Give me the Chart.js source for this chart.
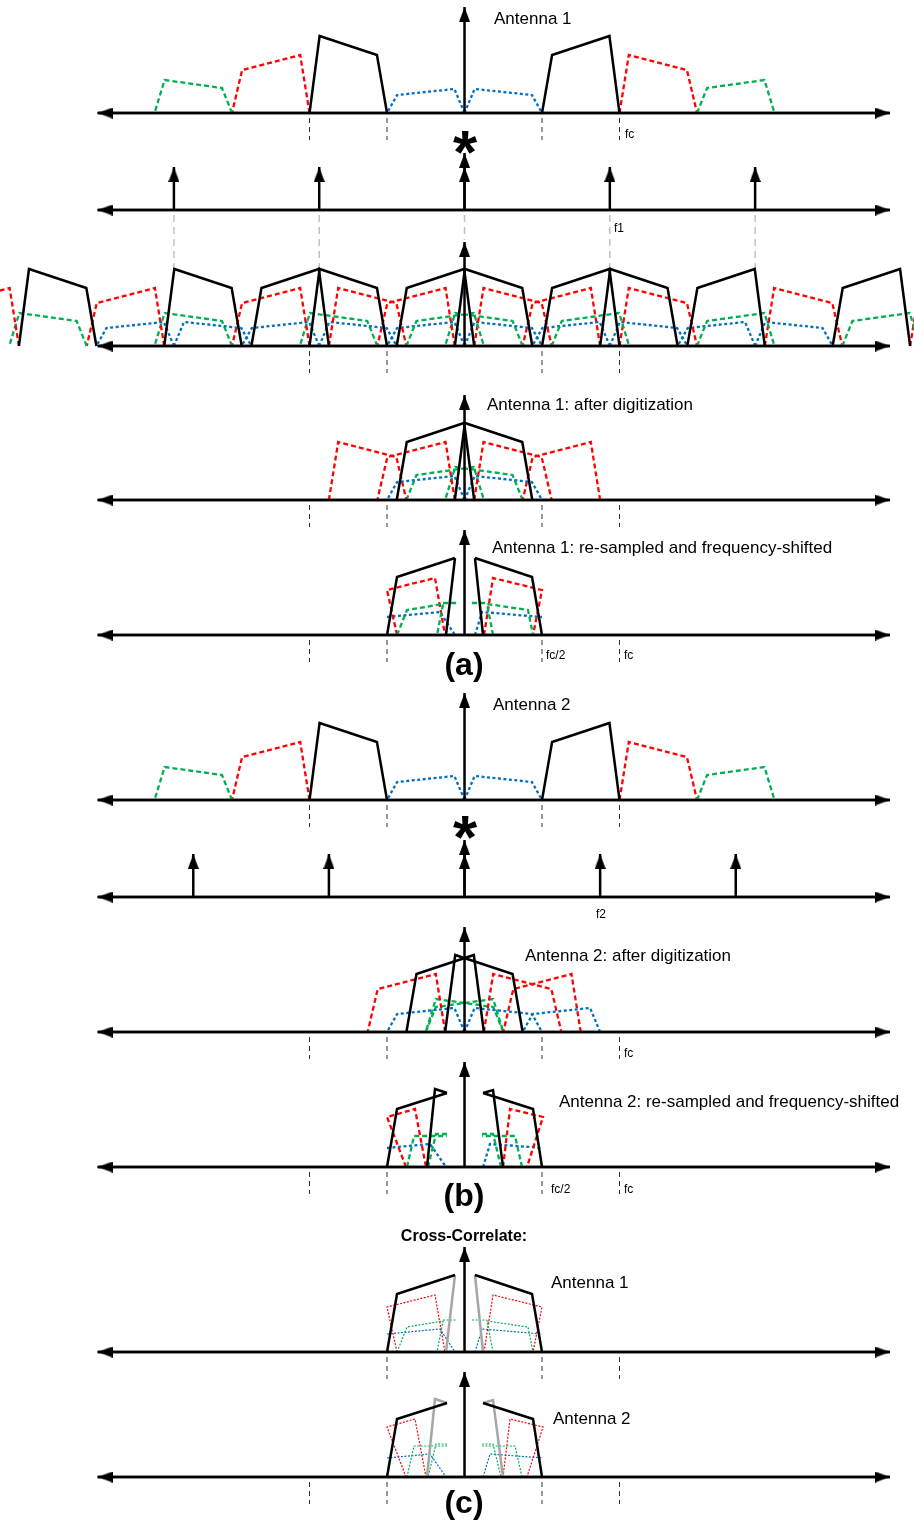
<!DOCTYPE html>
<html>
<head>
<meta charset="utf-8">
<title>Sampling and re-sampling spectra</title>
<script src="https://cdn.jsdelivr.net/npm/chart.js@4.4.1/dist/chart.umd.min.js"></script>
<style>
  body { margin: 0; background: #fff; }
  #wrap { position: relative; width: 914px; height: 1521px; font-family: "Liberation Sans", Arial, sans-serif; color: #000; }
  #chart { position: absolute; left: 0; top: 0; }
  .lbl { position: absolute; white-space: nowrap; line-height: normal; }
</style>
</head>
<body>
<div id="wrap">
  <canvas id="chart" width="914" height="1521"></canvas>
</div>
<script>
// frequency axis in units of fc/2 (0 = DC, 1 = fc/2, 2 = fc)
const F1 = 1.875; // antenna 1 sampling rate
const F2 = 1.75;  // antenna 2 sampling rate

// positive-frequency sub-bands of the received spectrum [freq, amplitude]
const blueBand = [[0, 0], [0.13, 24], [0.87, 18], [1, 0]];
const blackBand = [[1, 0], [1.13, 58], [1.87, 77], [2, 0]];
const redBand = [[2, 0], [2.12, 58], [2.87, 43], [3, 0]];
const greenBand = [[3, 0], [3.13, 25], [3.87, 33], [4, 0]];

const combOrders = [-2, -1, 0, 1, 2];
const combHeight = 43;

// images kept after digitization: [band, side, sampling order]
const digit1Images = [
  ["blue", 1, 0], ["blue", -1, 0],
  ["black", 1, -1], ["black", -1, 1],
  ["red", 1, -1], ["red", 1, -2], ["red", -1, 1], ["red", -1, 2],
  ["green", 1, -2], ["green", -1, 2],
];
const digit2Images = [
  ["blue", 1, 0], ["blue", -1, 0], ["blue", -1, 1],
  ["black", 1, -1], ["black", -1, 1],
  ["red", -1, 1], ["red", 1, -1], ["red", -1, 2],
  ["green", 1, -2], ["green", -1, 2],
];

// antenna 1 after re-sampling and frequency shift
const rs1Black = [[[-1, 0], [-0.871, 58], [-0.123, 77]], [[0.135, 77], [0.871, 58], [1, 0]]];
const rs1Edge = [[[-0.123, 77], [-0.239, 0]], [[0.135, 77], [0.239, 0]]];
const rs1Red = [[[-0.871, 0], [-1, 45], [-0.381, 57], [-0.252, 0]], [[0.252, 0], [0.368, 57], [1, 45], [0.884, 0]]];
const rs1Green = [
  [[-0.871, 0], [-0.742, 25], [-0.277, 31], [-0.355, 0]], [[-0.277, 32], [-0.097, 32]],
  [[0.368, 0], [0.29, 31], [0.819, 25], [0.884, 0]], [[0.097, 32], [0.29, 32]],
];
const rs1Blue = [[[-1, 18], [-0.316, 23], [-0.123, 0]], [[0.135, 0], [0.226, 23], [1, 18]]];

// antenna 2 after re-sampling and frequency shift
const rs2Black = [[[-1, 0], [-0.871, 58], [-0.226, 74]], [[0.239, 74], [0.884, 58], [1, 0]]];
const rs2Edge = [[[-0.226, 74], [-0.381, 78], [-0.484, 0]], [[0.239, 74], [0.368, 77], [0.497, 0]]];
const rs2Red = [[[-0.755, 0], [-1, 50], [-0.639, 58], [-0.497, 0]], [[0.497, 0], [0.587, 58], [1.013, 50], [0.806, 0]]];
const rs2Green = [
  [[-0.742, 0], [-0.652, 31], [-0.226, 31]], [[-0.226, 33], [-0.368, 33], [-0.471, 0]],
  [[0.742, 0], [0.652, 31], [0.226, 31]], [[0.226, 33], [0.368, 33], [0.471, 0]],
];
const rs2Blue = [[[-1, 19], [-0.445, 23], [-0.239, 0]], [[0.239, 0], [0.329, 23], [1.013, 19]]];

const markerFreqs = [-2, -1, 1, 2];

// ---- layout ----
const W = 914, H = 1521;
const X_MIN = -5.994, X_MAX = 5.8;
const AXIS_L = -4.734, AXIS_R = 5.49;
const baselines = { p1: 113, p2: 210, p3: 346, p4: 500, p5: 635, p6: 800, p7: 897, p8: 1032, p9: 1167, p10: 1352, p11: 1477 };
const yAxisTop = { p1: 106, p2: 57, p3: 104, p4: 105, p5: 105, p6: 107, p7: 57, p8: 105, p9: 105, p10: 105, p11: 105 };

const COLORS = { blue: "#0070c0", black: "#000000", red: "#ff0000", green: "#00b050" };
const DASH = { blue: [3, 2.5], red: [5, 3], green: [5, 3], black: [] };
const bands = { blue: blueBand, black: blackBand, red: redBand, green: greenBand };

function arrowHead(len, wid) {
  const c = document.createElement("canvas");
  c.width = wid;
  c.height = len * 2;
  const g = c.getContext("2d");
  g.fillStyle = "#000";
  g.beginPath();
  g.moveTo(wid / 2, len);
  g.lineTo(wid, len * 2);
  g.lineTo(0, len * 2);
  g.closePath();
  g.fill();
  return c;
}
const ARROW = arrowHead(15, 11);

const datasets = [];

function addLine(panel, pts, color, width, dash, order) {
  datasets.push({
    yAxisID: panel,
    data: pts.map(([x, y]) => ({ x, y })),
    showLine: true,
    borderColor: color,
    borderWidth: width,
    borderDash: dash,
    pointRadius: 0,
    fill: false,
    order: order,
  });
}

function addArrow(panel, pts, radii, rotations) {
  datasets.push({
    yAxisID: panel,
    data: pts.map(([x, y]) => ({ x, y })),
    showLine: true,
    borderColor: "#000",
    borderWidth: 2.5,
    pointStyle: ARROW,
    pointRadius: radii,
    pointRotation: rotations,
    order: 1,
  });
}

function place(band, side, shift) {
  return bands[band].map(([x, h]) => [side * x + shift, h]);
}

function addBand(panel, band, side, shift) {
  const color = COLORS[band];
  addLine(panel, place(band, side, shift), color, band === "black" ? 2.5 : 2.3, DASH[band], band === "black" ? 2 : 3);
}

function addAxes(panel) {
  addLine(panel, [[AXIS_L, 0], [AXIS_R, 0]], "#000", 2.5, [], 5);
  addArrow(panel, [[AXIS_L, 0], [AXIS_R, 0]], [1, 1], [-90, 90]);
  addArrow(panel, [[0, 0], [0, yAxisTop[panel]]], [0, 1], [0, 0]);
}

function addMarkers(panel, list) {
  list.forEach((f) => addLine(panel, [[f, -5], [f, -27]], "#333", 1, [5, 4], 6));
}

const fullSpectrum = (panel, shift) => {
  ["green", "red", "blue", "black"].forEach((b) => {
    addBand(panel, b, 1, shift);
    addBand(panel, b, -1, shift);
  });
};

// panel 1: antenna 1 spectrum
addAxes("p1");
fullSpectrum("p1", 0);
addMarkers("p1", markerFreqs);

// panel 2: sampling comb f1
addAxes("p2");
combOrders.forEach((k) => {
  if (k === 0) {
    addArrow("p2", [[0, 0], [0, combHeight]], [0, 1], [0, 0]);
    addLine("p2", [[0, -5], [0, -30]], "#c0c0c0", 1.5, [7, 5], 6);
  } else {
    addArrow("p2", [[k * F1, 0], [k * F1, combHeight]], [0, 1], [0, 0]);
    addLine("p2", [[k * F1, -5], [k * F1, -58]], "#c0c0c0", 1.5, [7, 5], 6);
  }
});

// panel 3: convolution
addAxes("p3");
combOrders.forEach((k) => fullSpectrum("p3", k * F1));
addMarkers("p3", markerFreqs);

// panel 4: after digitization (antenna 1)
addAxes("p4");
digit1Images.forEach(([b, s, k]) => addBand("p4", b, s, k * F1));
addMarkers("p4", markerFreqs);

function addResampled(panel, set, thin) {
  const cw = thin ? 1.2 : 2.3;
  const cd = (b) => (thin ? [2, 1.5] : DASH[b]);
  set.green.forEach((p) => addLine(panel, p, COLORS.green, cw, cd("green"), 3));
  set.red.forEach((p) => addLine(panel, p, COLORS.red, cw, cd("red"), 3));
  set.blue.forEach((p) => addLine(panel, p, COLORS.blue, cw, cd("blue"), 3));
  set.black.forEach((p) => addLine(panel, p, "#000", 2.5, [], 2));
  set.edge.forEach((p) => addLine(panel, p, thin ? "#a6a6a6" : "#000", 2.5, [], 2));
}
const rs1 = { black: rs1Black, edge: rs1Edge, red: rs1Red, green: rs1Green, blue: rs1Blue };
const rs2 = { black: rs2Black, edge: rs2Edge, red: rs2Red, green: rs2Green, blue: rs2Blue };

// panel 5: re-sampled antenna 1
addAxes("p5");
addResampled("p5", rs1, false);
addMarkers("p5", markerFreqs);

// panel 6: antenna 2 spectrum
addAxes("p6");
fullSpectrum("p6", 0);
addMarkers("p6", markerFreqs);

// panel 7: sampling comb f2
addAxes("p7");
combOrders.forEach((k) => addArrow("p7", [[k * F2, 0], [k * F2, combHeight]], [0, 1], [0, 0]));

// panel 8: after digitization (antenna 2)
addAxes("p8");
digit2Images.forEach(([b, s, k]) => addBand("p8", b, s, k * F2));
addMarkers("p8", markerFreqs);

// panel 9: re-sampled antenna 2
addAxes("p9");
addResampled("p9", rs2, false);
addMarkers("p9", markerFreqs);

// panels 10-11: cross-correlation inputs
addAxes("p10");
addResampled("p10", rs1, true);
addMarkers("p10", [-1, 1, 2]);
addAxes("p11");
addResampled("p11", rs2, true);
addMarkers("p11", markerFreqs);

const scales = {
  x: { type: "linear", min: X_MIN, max: X_MAX, display: false },
};
Object.entries(baselines).forEach(([id, base]) => {
  scales[id] = { type: "linear", position: "left", min: base - H, max: base, display: false };
});

new Chart(document.getElementById("chart"), {
  type: "scatter",
  data: { datasets },
  options: {
    responsive: false,
    animation: false,
    events: [],
    layout: { padding: 0, autoPadding: false },
    scales,
    plugins: { legend: { display: false }, tooltip: { enabled: false } },
  },
});

// ---- text ----
const texts = [
  { t: "Antenna 1", x: 494, b: 24, s: 17 },
  { t: "fc", x: 625, b: 138, s: 12 },
  { t: "*", x: 465, b: 172, s: 62, bold: true, c: true },
  { t: "f1", x: 614, b: 232, s: 12 },
  { t: "Antenna 1: after digitization", x: 487, b: 410, s: 17 },
  { t: "Antenna 1: re-sampled and frequency-shifted", x: 492, b: 553, s: 17 },
  { t: "fc/2", x: 546, b: 659, s: 12 },
  { t: "fc", x: 624, b: 659, s: 12 },
  { t: "(a)", x: 464, b: 675, s: 32, bold: true, c: true },
  { t: "Antenna 2", x: 493, b: 710, s: 17 },
  { t: "*", x: 465, b: 857, s: 62, bold: true, c: true },
  { t: "f2", x: 596, b: 918, s: 12 },
  { t: "Antenna 2: after digitization", x: 525, b: 961, s: 17 },
  { t: "fc", x: 624, b: 1057, s: 12 },
  { t: "Antenna 2: re-sampled and frequency-shifted", x: 559, b: 1107, s: 17 },
  { t: "fc/2", x: 551, b: 1193, s: 12 },
  { t: "fc", x: 624, b: 1193, s: 12 },
  { t: "(b)", x: 464, b: 1206, s: 32, bold: true, c: true },
  { t: "Cross-Correlate:", x: 464, b: 1241, s: 16, bold: true, c: true },
  { t: "Antenna 1", x: 551, b: 1288, s: 17 },
  { t: "Antenna 2", x: 553, b: 1424, s: 17 },
  { t: "(c)", x: 464, b: 1513, s: 32, bold: true, c: true },
];
const wrap = document.getElementById("wrap");
texts.forEach((d) => {
  const el = document.createElement("div");
  el.className = "lbl";
  el.textContent = d.t;
  el.style.fontSize = d.s + "px";
  el.style.fontWeight = d.bold ? "bold" : "normal";
  el.style.left = d.x + "px";
  el.style.top = d.b - 0.905 * d.s + "px";
  if (d.c) el.style.transform = "translateX(-50%)";
  wrap.appendChild(el);
});
</script>
</body>
</html>
